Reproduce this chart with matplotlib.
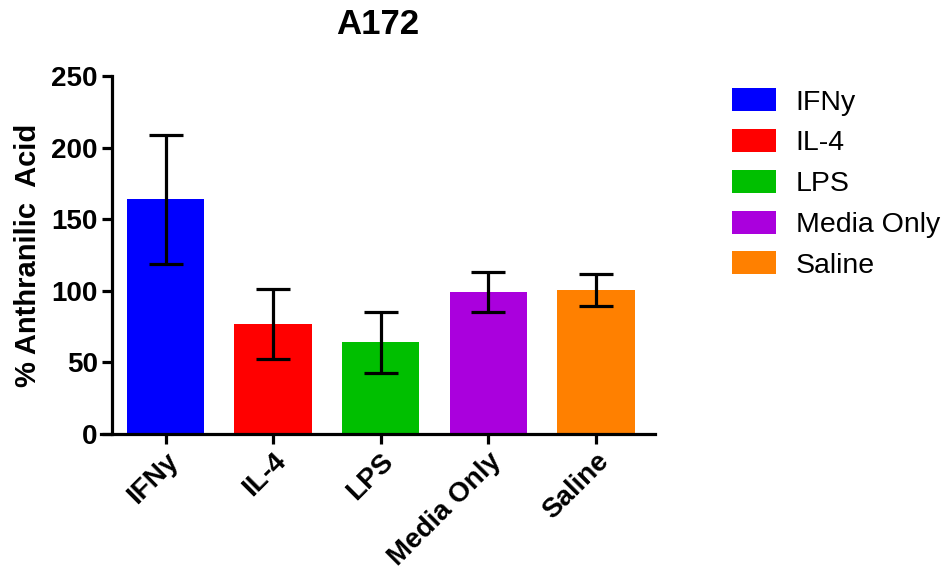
import matplotlib
matplotlib.use("Agg")
import matplotlib.pyplot as plt
from matplotlib.patches import Patch

# data
groups = ["IFNy", "IL-4", "LPS", "Media Only", "Saline"]
means = [164, 77, 64, 99, 100.5]
errors = [45, 24.5, 21, 14, 11]
colors = ["#0000FF", "#FF0000", "#00BF00", "#AA00DD", "#FF8000"]
yticks = [0, 50, 100, 150, 200, 250]

plt.rcParams["font.family"] = ["Liberation Sans", "DejaVu Sans"]

fig = plt.figure(figsize=(9.46, 5.75), dpi=100)
# axes box a bit left of y spine so the x axis line pokes out like GraphPad
ax = fig.add_axes([101 / 946, 0.245, 554 / 946, 0.623])

x = list(range(len(groups)))
ax.bar(x, means, width=0.72, color=colors, zorder=2)
ax.errorbar(x, means, yerr=errors, fmt="none", ecolor="black",
            elinewidth=2.3, capsize=12, capthick=2.3, zorder=3)

ax.set_xlim(-0.6, 4.55)
ax.set_ylim(0, 250)
ax.spines["left"].set_position(("data", -0.5))
ax.set_yticks(yticks)
ax.set_yticklabels([str(t) for t in yticks], fontsize=20, fontweight="bold")
ax.set_xticks(x)
ax.set_xticklabels(groups, fontsize=20, fontweight="bold",
                   rotation=45, ha="right", rotation_mode="anchor")

ax.spines["top"].set_visible(False)
ax.spines["right"].set_visible(False)
for s in ["left", "bottom"]:
    ax.spines[s].set_linewidth(2.3)
ax.tick_params(axis="both", width=2.3, length=7, pad=3)

ax.set_ylabel("% Anthranilic  Acid", fontsize=21, fontweight="bold", labelpad=7)
ax.set_title("A172", fontsize=25, fontweight="bold", pad=30)

handles = [Patch(facecolor=c, label=g) for c, g in zip(colors, groups)]
fig.legend(handles=handles, loc="upper left", bbox_to_anchor=(0.747, 0.891),
           frameon=False, fontsize=20.5, handlelength=1.55, handleheight=0.87,
           labelspacing=0.47, handletextpad=0.68)

fig.savefig("out.png", dpi=100)
